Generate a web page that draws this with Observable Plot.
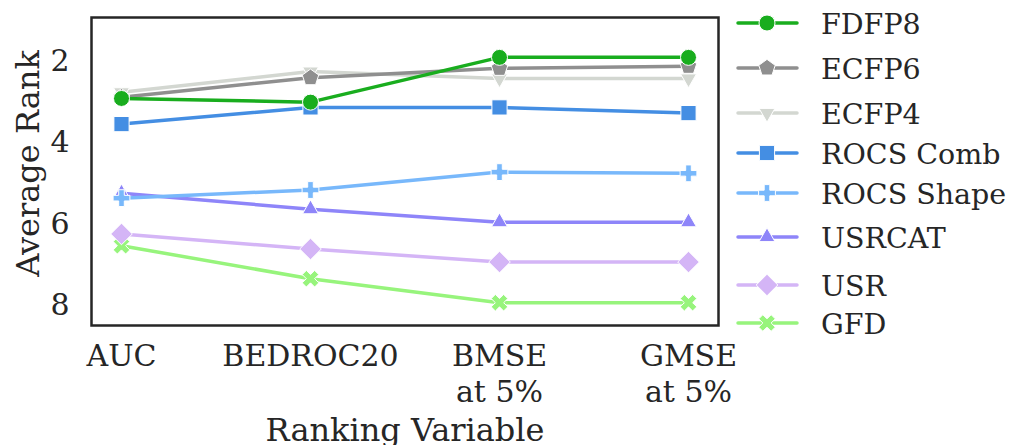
<!DOCTYPE html>
<html>
<head>
<meta charset="utf-8">
<script src="https://cdn.jsdelivr.net/npm/d3@7"></script>
<script src="https://cdn.jsdelivr.net/npm/@observablehq/plot@0.6"></script>
<style>
  html, body { margin: 0; padding: 0; background: #fff; }
  #wrap { position: relative; width: 1009px; height: 445px; overflow: hidden; }
  #chart { position: absolute; left: 0; top: 0; }
  #legend { position: absolute; left: 730px; top: 0; }
</style>
</head>
<body>
<div id="wrap"><div id="chart"></div><svg id="legend" width="279" height="345"></svg></div>
<script>
// ---- data ----
const categories = ["AUC", "BEDROC20", "BMSE\nat 5%", "GMSE\nat 5%"];
const seriesNames = ["FDFP8", "ECFP6", "ECFP4", "ROCS Comb", "ROCS Shape", "USRCAT", "USR", "GFD"];
const FDFP8     = [2.91, 3.00, 1.90, 1.90];
const ECFP6     = [2.88, 2.40, 2.17, 2.12];
const ECFP4     = [2.76, 2.25, 2.42, 2.42];
const ROCSComb  = [3.54, 3.13, 3.13, 3.27];
const ROCSShape = [5.36, 5.16, 4.72, 4.75];
const USRCAT    = [5.24, 5.63, 5.95, 5.95];
const USR       = [6.24, 6.61, 6.93, 6.93];
const GFD       = [6.53, 7.34, 7.93, 7.93];
const yTicks = [2, 4, 6, 8];
const xLabel = "Ranking Variable";
const yLabel = "Average Rank";
const seriesValues = [FDFP8, ECFP6, ECFP4, ROCSComb, ROCSShape, USRCAT, USR, GFD];
const seriesColors = ["#19ad1e", "#8f8f8f", "#d3d7d1", "#448ee3", "#78b8fb", "#8e85f9", "#d4b5f6", "#97f47c"];

// ---- custom marker shapes (size = pi*r^2) ----
function poly(ctx, pts) { ctx.moveTo(pts[0][0], pts[0][1]); for (let i = 1; i < pts.length; i++) ctx.lineTo(pts[i][0], pts[i][1]); ctx.closePath(); }
const rOf = size => Math.sqrt(size / Math.PI);
const symPentagon = { draw(ctx, size) { const R = rOf(size) * 1.08; const p = []; for (let k = 0; k < 5; k++) { const a = -Math.PI / 2 + k * 2 * Math.PI / 5; p.push([R * Math.cos(a), R * Math.sin(a)]); } poly(ctx, p); } };
const triangle = dir => ({ draw(ctx, size) { const R = rOf(size) * 1.15; const p = []; for (let k = 0; k < 3; k++) { const a = dir * Math.PI / 2 + k * 2 * Math.PI / 3; p.push([R * Math.cos(a), R * Math.sin(a)]); } poly(ctx, p); } });
const symTriDown = triangle(1), symTriUp = triangle(-1);
const symSquare = { draw(ctx, size) { const h = rOf(size) * 0.95; poly(ctx, [[-h, -h], [h, -h], [h, h], [-h, h]]); } };
const symDiamond = { draw(ctx, size) { const d = rOf(size) * 1.35; poly(ctx, [[0, -d], [d, 0], [0, d], [-d, 0]]); } };
function crossPts(h, rot) {
  const a = h / 3;
  const base = [[-a, -h], [a, -h], [a, -a], [h, -a], [h, a], [a, a], [a, h], [-a, h], [-a, a], [-h, a], [-h, -a], [-a, -a]];
  const c = Math.cos(rot), s = Math.sin(rot);
  return base.map(([x, y]) => [x * c - y * s, x * s + y * c]);
}
const symPlus = { draw(ctx, size) { poly(ctx, crossPts(rOf(size) * 1.05, 0)); } };
const symX = { draw(ctx, size) { poly(ctx, crossPts(rOf(size) * 1.1, Math.PI / 4)); } };
const seriesSymbols = [d3.symbolCircle, symPentagon, symTriDown, symSquare, symPlus, symTriUp, symDiamond, symX];

// ---- table ----
const rows = [];
seriesNames.forEach((s, si) => categories.forEach((c, ci) => rows.push({ series: s, cat: c, value: seriesValues[si][ci] })));

const marks = [];
for (let si = seriesNames.length - 1; si >= 0; si--) {
  const rs = rows.filter(d => d.series === seriesNames[si]);
  marks.push(Plot.line(rs, { x: "cat", y: "value", stroke: seriesColors[si], strokeWidth: 3.5 }));
  marks.push(Plot.dot(rs, { x: "cat", y: "value", r: 8, symbol: seriesSymbols[si], fill: seriesColors[si], stroke: "white", strokeWidth: 1 }));
}
marks.push(Plot.frame({ stroke: "#262626", strokeWidth: 2.5 }));
marks.push(Plot.axisY({ ticks: yTicks, tickSize: 0, tickPadding: 22, label: null }));
marks.push(Plot.axisX({ tickSize: 0, tickPadding: 15, lineHeight: 1.2, label: null }));
marks.push(Plot.text([xLabel], { text: d => d, frameAnchor: "bottom", textAnchor: "middle", dy: 115, fontSize: 32, fill: "#262626" }));
marks.push(Plot.text([yLabel], { text: d => d, frameAnchor: "left", textAnchor: "middle", lineAnchor: "middle", rotate: -90, dx: -63, dy: -8, fontSize: 32, fill: "#262626" }));

const chart = Plot.plot({
  width: 1009, height: 445,
  marginLeft: 91, marginRight: 291, marginTop: 17, marginBottom: 120,
  style: { fontFamily: "DejaVu Serif", fontSize: "30px", color: "#262626", background: "transparent", overflow: "visible" },
  x: { type: "point", domain: categories, padding: 0.155 },
  y: { domain: [0.92, 8.49], reverse: true },
  marks
});
document.getElementById("chart").appendChild(chart);

// ---- legend ----
const legendRowY = [23, 68, 113, 153, 193, 237, 285, 323];
const lg = d3.select("#legend");
seriesNames.forEach((s, i) => {
  const g = lg.append("g").attr("transform", `translate(0,${legendRowY[i]})`);
  g.append("line").attr("x1", 8).attr("x2", 67).attr("y1", 0).attr("y2", 0)
    .attr("stroke", seriesColors[i]).attr("stroke-width", 3.5).attr("stroke-linecap", "round");
  g.append("path").attr("transform", "translate(37,0)")
    .attr("d", d3.symbol(seriesSymbols[i], Math.PI * 64)())
    .attr("fill", seriesColors[i]).attr("stroke", "white").attr("stroke-width", 1);
  g.append("text").attr("x", 91).attr("y", 10.5).text(s)
    .attr("font-family", "DejaVu Serif").attr("font-size", 28.5).attr("fill", "#262626");
});
</script>
</body>
</html>
